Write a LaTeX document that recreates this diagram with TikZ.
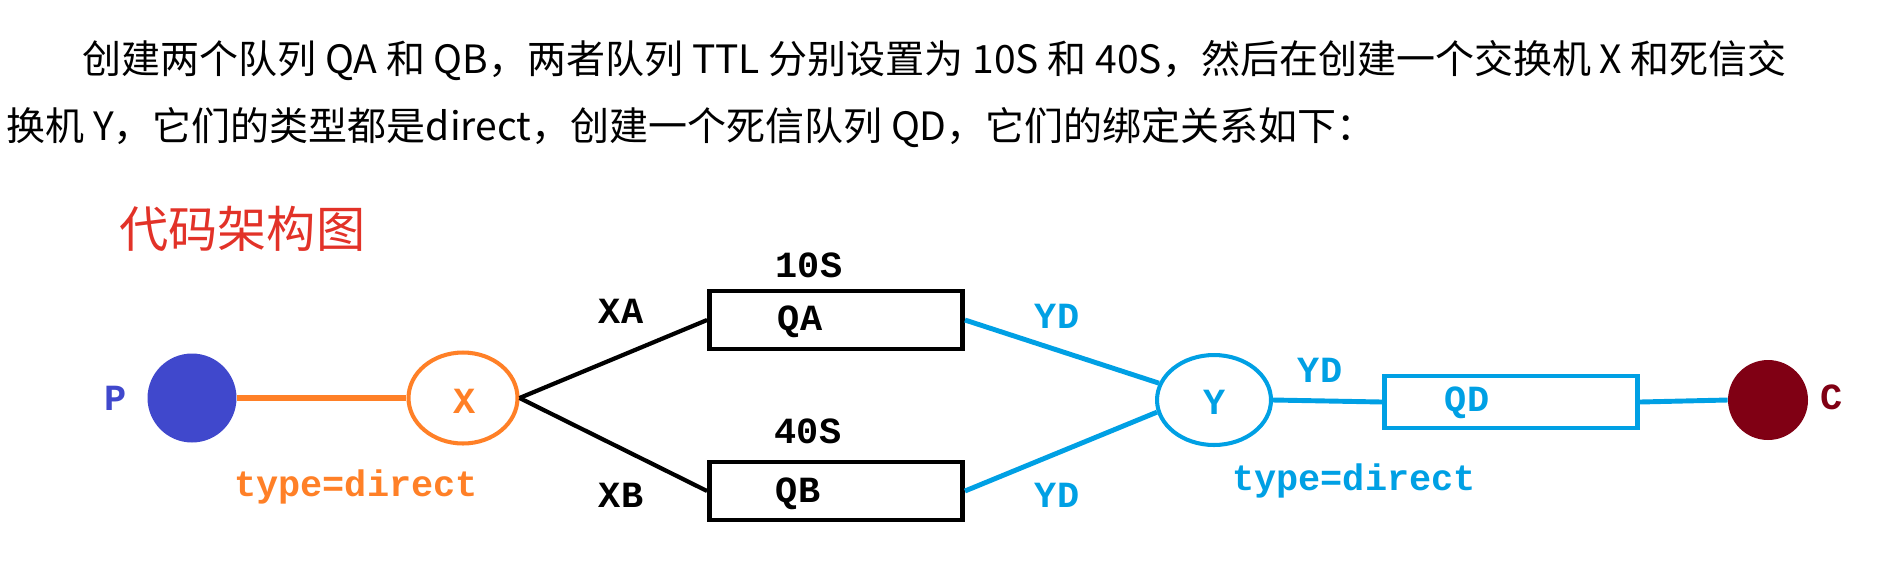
\documentclass[tikz,border=0pt]{standalone}
\usepackage{fontspec}
\usetikzlibrary{shapes.geometric, positioning}
\newfontfamily\cjkfont{Noto Sans CJK SC}
\newfontfamily\monofont{Liberation Mono}
\definecolor{prodblue}{RGB}{64,72,204}
\definecolor{xorange}{RGB}{255,128,39}
\definecolor{yblue}{RGB}{0,160,228}
\definecolor{consred}{RGB}{128,0,20}
\definecolor{titlered}{RGB}{226,50,40}
\tikzset{
  % Body text lines
  bodytext/.style={anchor=west, inner sep=0pt, font=\cjkfont\fontsize{22.2}{26}\selectfont},
  % Exchange (parameterized by color)
  exchange/.style={ellipse, draw=#1, line width=2.3pt, inner sep=0pt,
    minimum width=2.18cm, minimum height=1.82cm},
  % Queue box (parameterized by color)
  queuebox/.style={rectangle, draw=#1, line width=2.8pt, inner sep=0pt,
    minimum width=5.06cm, minimum height=1.16cm},
  % Producer / consumer dot
  client/.style={circle, fill=#1, inner sep=0pt, minimum size=1.78cm},
  % Binding line
  bind/.style={line width=2.8pt, color=#1},
  % Mono labels
  lbl/.style={inner sep=0pt, text=#1, font=\monofont\bfseries\fontsize{21}{24}\selectfont}
}
\begin{document}
\begin{tikzpicture}[x=0.02cm, y=-0.02cm]
  \useasboundingbox (0,0) rectangle (1892,576);

  % Intro text
  \node[bodytext] (line1) at (82,61) {创建两个队列 QA 和 QB，两者队列 TTL 分别设置为 10S 和 40S，然后在创建一个交换机 X 和死信交};
  \node[bodytext] (line2) at (6,128) {换机 Y，它们的类型都是direct，创建一个死信队列 QD，它们的绑定关系如下：};
  \node[anchor=west, inner sep=0pt, text=titlered, font=\cjkfont\fontsize{28}{32}\selectfont] (title) at (119,229) {代码架构图};

  % Producer and exchange X
  \node[client=prodblue] (P) at (192,398) {};
  \node[lbl=prodblue] (Plbl) at (116,398) {P};
  \node[exchange=xorange] (X) at (463,398) {};
  \node[lbl=xorange] (Xlbl) at (465,401) {X};
  \node[lbl=xorange] (xtype) at (356,487) {type=direct};

  % Queues QA and QB
  \node[queuebox=black] (QA) at (836,320) {};
  \node[lbl=black] (QAlbl) at (800,322) {QA};
  \node[lbl=black] (ttlA) at (809,265) {10S};
  \node[queuebox=black] (QB) at (836,491) {};
  \node[lbl=black] (QBlbl) at (798,494) {QB};
  \node[lbl=black] (ttlB) at (808,431) {40S};
  \node[lbl=black] (keyXA) at (621,311) {XA};
  \node[lbl=black] (keyXB) at (621,495) {XB};

  % Dead letter exchange Y, queue QD and consumer
  \node[exchange=yblue, minimum width=2.28cm, minimum height=1.8cm] (Y) at (1214,400) {};
  \node[lbl=yblue] (Ylbl) at (1215,402) {Y};
  \node[lbl=yblue] (ytype) at (1354,481) {type=direct};
  \node[queuebox=yblue, minimum height=1.04cm] (QD) at (1511,402) {};
  \node[lbl=yblue] (QDlbl) at (1467,403) {QD};
  \node[client=consred, minimum size=1.6cm] (C) at (1768,400) {};
  \node[lbl=consred] (Clbl) at (1832,397) {C};
  \node[lbl=yblue] (keyYA) at (1057,316) {YD};
  \node[lbl=yblue] (keyYB) at (1057,495) {YD};
  \node[lbl=yblue] (keyYD) at (1320,370) {YD};

  % --- Bindings ---
  \draw[bind=xorange, line width=3.6pt] (P.east) -- (X.west);
  \draw[bind=black, line width=2.4pt] (X.east) -- (QA.west);
  \draw[bind=black, line width=2.4pt] (X.east) -- (QB.west);
  \draw[bind=yblue] (QA.east) -- (Y.163);
  \draw[bind=yblue] (QB.east) -- (Y.192);
  \draw[bind=yblue] (Y.east) -- (QD.west);
  \draw[bind=yblue] (QD.east) -- (C.west);
\end{tikzpicture}
\end{document}
